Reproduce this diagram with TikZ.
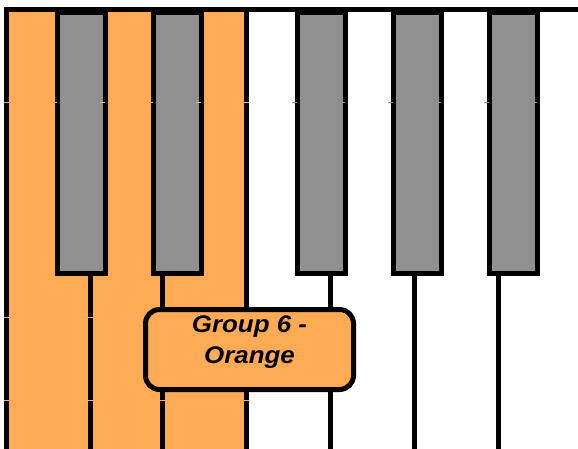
\documentclass[tikz,border=0pt]{standalone}
\usepackage{fontspec}
\setmainfont{Liberation Sans}
\definecolor{keyorange}{HTML}{FFAA55}
\definecolor{keygray}{HTML}{909090}
\tikzset{
  keyline/.style={line width=5pt, black},
  blackkey/.style={draw=black, line width=5pt, fill=keygray, anchor=north west,
    minimum width=48pt, minimum height=261.5pt, inner sep=0pt},
  tick/.style={line width=0.6pt},
  grouplabel/.style={draw=black, line width=5pt, fill=keyorange, rounded corners=14pt,
    minimum width=208pt, minimum height=80pt, inner sep=0pt,
    font=\fontsize{24pt}{31pt}\selectfont\bfseries\itshape}
}
\begin{document}
\begin{tikzpicture}[x=1pt,y=-1pt]
\useasboundingbox (0,0) rectangle (578,448);
% key surfaces
\fill[keyorange] (6.5,9.5) rectangle (246.5,452);
% white key boundaries
\coordinate (k0t) at (6.5,9.5);   \coordinate (k0b) at (6.5,452);
\coordinate (k1t) at (90.5,271);  \coordinate (k1b) at (90.5,452);
\coordinate (k2t) at (162.5,271); \coordinate (k2b) at (162.5,452);
\coordinate (k3t) at (246.5,9.5); \coordinate (k3b) at (246.5,452);
\coordinate (k4t) at (330.5,271); \coordinate (k4b) at (330.5,452);
\coordinate (k5t) at (414,271);   \coordinate (k5b) at (414,452);
\coordinate (k6t) at (498.5,271); \coordinate (k6b) at (498.5,452);
\foreach \i in {1,2,3,4,5,6} { \draw[keyline] (k\i t) -- (k\i b); }
% black keys
\node[blackkey] (b1) at (54.5,9.5) {};
\node[blackkey] (b2) at (150.5,9.5) {};
\node[blackkey] (b3) at (294.5,9.5) {};
\node[blackkey] (b4) at (390.5,9.5) {};
\node[blackkey] (b5) at (486.5,9.5) {};
% frame: left edge and top edge
\coordinate (tr) at (582,9.5);
\draw[keyline, line join=miter] (k0b) -- (k0t) -- (tr);
% faint seams over the black lines
\foreach \xa in {4,52,100,148,196,244} { \draw[tick, keyorange] (\xa,102) -- ++(5,0); }
\foreach \xa in {292,340,388,436,484,532} { \draw[tick, keygray] (\xa,102) -- ++(5,0); }
\foreach \yy in {317,400} { \foreach \xa in {4,88,160,244} { \draw[tick, keyorange] (\xa,\yy) -- ++(5,0); } }
% label
\node[grouplabel] (lbl) at (249.5,349.5) {\raisebox{-13.5pt}[0pt][0pt]{\begin{tabular}[b]{@{}c@{}}\scalebox{1.08}[1]{Group 6 -}\\\scalebox{1.08}[1]{Orange}\end{tabular}}};
\end{tikzpicture}
\end{document}
